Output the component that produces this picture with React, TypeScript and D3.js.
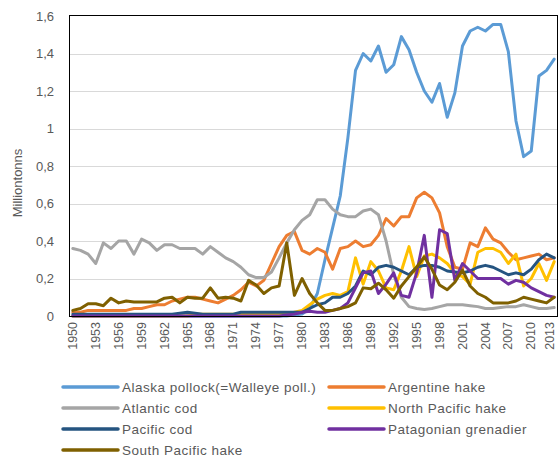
import * as d3 from 'd3';

// Catch of selected gadiform species, million tonnes, 1950–2013
const years = d3.range(1950, 2014);

const alaskaPollock = [
  0, 0, 0, 0, 0, 0, 0, 0, 0, 0,
  0, 0, 0, 0, 0, 0, 0, 0, 0, 0,
  0, 0, 0, 0, 0, 0, 0, 0, 0, 0.005,
  0.01, 0.04, 0.12, 0.3, 0.47, 0.64, 0.95, 1.31, 1.4, 1.36,
  1.44, 1.3, 1.34, 1.49, 1.42, 1.3, 1.2, 1.14, 1.24, 1.06,
  1.19, 1.44, 1.52, 1.54, 1.52, 1.555, 1.555, 1.41, 1.04, 0.85,
  0.88, 1.28, 1.31, 1.37,
];
const argentineHake = [
  0.02, 0.02, 0.03, 0.03, 0.03, 0.03, 0.03, 0.03, 0.04, 0.04,
  0.05, 0.06, 0.06, 0.08, 0.09, 0.1, 0.1, 0.09, 0.08, 0.07,
  0.09, 0.11, 0.14, 0.18, 0.16, 0.19, 0.28, 0.37, 0.43, 0.45,
  0.35, 0.33, 0.36, 0.34, 0.25, 0.36, 0.37, 0.4, 0.37, 0.38,
  0.43, 0.52, 0.48, 0.53, 0.53, 0.63, 0.66, 0.63, 0.55, 0.37,
  0.26, 0.25, 0.39, 0.37, 0.47, 0.41, 0.39, 0.34, 0.3, 0.31,
  0.32, 0.33, 0.3, 0.31,
];
const atlanticCod = [
  0.36, 0.35, 0.33, 0.28, 0.39, 0.36, 0.4, 0.4, 0.33, 0.41,
  0.39, 0.35, 0.38, 0.38, 0.36, 0.36, 0.36, 0.33, 0.37, 0.34,
  0.31, 0.29, 0.26, 0.22, 0.205, 0.205, 0.235, 0.31, 0.39, 0.46,
  0.51, 0.54, 0.62, 0.62, 0.57, 0.54, 0.53, 0.53, 0.56, 0.57,
  0.54, 0.4, 0.22, 0.1, 0.05, 0.04, 0.035, 0.04, 0.05, 0.06,
  0.06, 0.06, 0.055, 0.05, 0.04, 0.04, 0.045, 0.05, 0.05, 0.06,
  0.05, 0.04, 0.04, 0.045,
];
const northPacificHake = [
  0, 0, 0, 0, 0, 0, 0, 0, 0, 0,
  0, 0, 0, 0, 0, 0, 0.01, 0.01, 0.01, 0.01,
  0.01, 0.01, 0.01, 0.01, 0.01, 0.01, 0.01, 0.01, 0.01, 0.02,
  0.03, 0.06, 0.09, 0.11, 0.12, 0.11, 0.13, 0.31, 0.17, 0.29,
  0.24, 0.15, 0.14, 0.24, 0.37, 0.21, 0.32, 0.33, 0.31, 0.28,
  0.23, 0.21, 0.17, 0.34, 0.36, 0.36, 0.34, 0.28, 0.33, 0.16,
  0.2, 0.28, 0.19, 0.29,
];
const pacificCod = [
  0.01, 0.01, 0.01, 0.01, 0.01, 0.01, 0.01, 0.01, 0.01, 0.01,
  0.01, 0.01, 0.01, 0.01, 0.015, 0.02, 0.015, 0.01, 0.01, 0.01,
  0.01, 0.01, 0.02, 0.02, 0.02, 0.02, 0.02, 0.02, 0.02, 0.02,
  0.02, 0.04, 0.06, 0.07, 0.1, 0.1, 0.12, 0.16, 0.24, 0.22,
  0.26, 0.27, 0.26, 0.24, 0.22, 0.26, 0.27, 0.27, 0.26, 0.24,
  0.235, 0.23, 0.24, 0.26, 0.27, 0.26, 0.24, 0.22, 0.23, 0.22,
  0.25, 0.3, 0.33, 0.31,
];
const patagonianGrenadier = [
  0, 0, 0, 0, 0, 0, 0, 0, 0, 0,
  0, 0, 0, 0, 0, 0, 0, 0, 0, 0,
  0, 0, 0, 0, 0, 0, 0, 0, 0.005, 0.01,
  0.02, 0.025, 0.02, 0.02, 0.03, 0.04, 0.07, 0.15, 0.23, 0.24,
  0.12, 0.17, 0.23, 0.11, 0.1, 0.23, 0.43, 0.1, 0.46, 0.44,
  0.19, 0.28, 0.24, 0.2, 0.2, 0.2, 0.2, 0.17, 0.19, 0.18,
  0.15, 0.13, 0.11, 0.1,
];
const southPacificHake = [
  0.03, 0.04, 0.065, 0.065, 0.055, 0.095, 0.07, 0.08, 0.075, 0.075,
  0.075, 0.075, 0.095, 0.1, 0.07, 0.1, 0.095, 0.095, 0.15, 0.095,
  0.1, 0.095, 0.08, 0.19, 0.165, 0.12, 0.15, 0.16, 0.39, 0.11,
  0.2, 0.12, 0.07, 0.03, 0.03, 0.04, 0.05, 0.07, 0.15, 0.145,
  0.175, 0.14, 0.095, 0.16, 0.21, 0.26, 0.315, 0.25, 0.165, 0.14,
  0.18, 0.245, 0.16, 0.12, 0.1, 0.07, 0.07, 0.07, 0.08, 0.1,
  0.09, 0.08, 0.07, 0.1,
];

const seriesNames = [
  'Alaska pollock(=Walleye poll.)',
  'Argentine hake',
  'Atlantic cod',
  'North Pacific hake',
  'Pacific cod',
  'Patagonian grenadier',
  'South Pacific hake',
];
const seriesColors = ['#5b9bd5', '#ed7d31', '#a5a5a5', '#ffc000', '#255480', '#7030a0', '#7f6000'];
const seriesValues = [
  alaskaPollock, argentineHake, atlanticCod, northPacificHake,
  pacificCod, patagonianGrenadier, southPacificHake,
];

const yTicks = [0, 0.2, 0.4, 0.6, 0.8, 1, 1.2, 1.4, 1.6];
const xTickYears = years.filter(y => (y - 1950) % 3 === 0);

const W = 558;
const H = 459;
const FONT = 'Liberation Sans, Arial, sans-serif';
const TEXT = '#595959';

export default function App() {
  const x = d3.scaleBand<number>().domain(years).range([69, 558]);
  const y = d3.scaleLinear().domain([0, 1.6]).range([316, 16]);
  const cx = (yr: number) => (x(yr) ?? 0) + x.bandwidth() / 2;

  const fmt = d3.formatLocale({ decimal: ',', thousands: ' ', grouping: [3], currency: ['', ''] }).format('~g');

  const line = d3.line<number>()
    .x((_d, i) => cx(years[i]))
    .y(d => y(d));

  const legendRows = [387, 408, 429, 450];
  const legendCols = [63, 329];

  return (
    <svg width={W} height={H} style={{ position: 'absolute', left: 0, top: 0 }} fontFamily={FONT}>
      <rect width={W} height={H} fill="#fff" />

      {/* gridlines */}
      {yTicks.filter(t => t > 0 && t < 1.6).map(t => (
        <line key={t} x1={69} x2={558} y1={Math.round(y(t)) + 0.5} y2={Math.round(y(t)) + 0.5}
          stroke="#d9d9d9" strokeWidth={1} />
      ))}

      {/* y tick labels */}
      {yTicks.map(t => (
        <text key={t} x={54} y={y(t)} dy="0.35em" textAnchor="end" fontSize={13} fill={TEXT}>
          {fmt(t)}
        </text>
      ))}

      {/* y axis title */}
      <text transform="translate(17,183) rotate(-90)" textAnchor="middle" dy="0.35em" fontSize={13} fill={TEXT}>
        Milliontonns
      </text>

      {/* x tick labels */}
      {xTickYears.map(yr => (
        <text key={yr} transform={`translate(${Math.min(cx(yr), 550)},322) rotate(-90)`} textAnchor="end" dy="0.33em"
          fontSize={12.5} fill={TEXT}>
          {yr}
        </text>
      ))}

      {/* series */}
      <g fill="none" strokeWidth={3} strokeLinejoin="round" strokeLinecap="round">
        {seriesValues.map((vals, i) => (
          <path key={seriesNames[i]} d={line(vals) ?? ''} stroke={seriesColors[i]} />
        ))}
      </g>

      {/* plot frame */}
      <rect x={69.5} y={15.5} width={488} height={301} fill="none" stroke="#000" strokeWidth={1} />

      {/* legend */}
      {seriesNames.map((name, i) => {
        const lx = legendCols[i % 2];
        const ly = legendRows[Math.floor(i / 2)];
        return (
          <g key={name}>
            <line x1={lx} x2={lx + 55} y1={ly} y2={ly} stroke={seriesColors[i]} strokeWidth={3.5} strokeLinecap="round" />
            <text x={lx + 59} y={ly} dy="0.35em" fontSize={13.5} letterSpacing={0.5} fill={TEXT}>{name}</text>
          </g>
        );
      })}
    </svg>
  );
}
